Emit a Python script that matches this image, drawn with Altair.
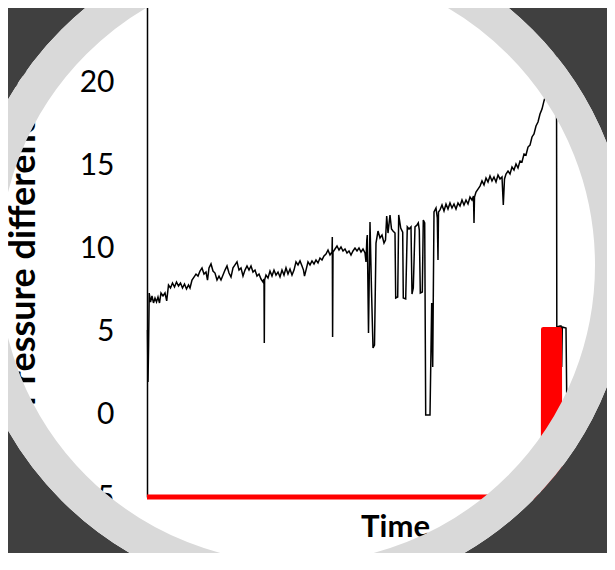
import altair as alt
import pandas as pd

# Black series: pressure difference
time_s = [0.5, 1.0, 1.6, 2.2, 3.5, 5, 6.5, 8, 9.5, 11, 12.5, 14, 16, 18, 19.7, 21.5, 23.5, 25.5, 27.5, 29.5,
          31.5, 33.5, 35.5, 37.5, 39.5, 41.5, 43, 45, 47, 49, 51, 53, 55, 57, 59, 60.5, 62, 64, 66, 68,
          70, 72, 74, 76, 78, 80, 82, 84, 86, 88, 90, 92, 94, 96, 98, 100, 102, 104, 106, 108,
          110, 112, 114, 116, 117, 117.3, 117.6, 119, 121, 123, 125, 127, 129, 131, 133, 135, 137, 139, 141, 143,
          145, 147, 149, 151, 153, 155, 156.5, 157.5, 159, 161, 163, 165, 167, 169, 171, 173, 175, 177, 179, 181,
          183, 185, 185.3, 185.6, 186, 188, 190, 192, 194, 196, 198, 200, 202, 204, 206, 208, 210, 212, 214, 216,
          218, 219, 219.8, 220.3, 221.5, 223, 224.5, 226, 227.5, 229, 231, 233, 235, 237, 238.5, 239.7, 241, 243, 244.5, 246,
          248, 248.7, 250.7, 251.7, 253.7, 255.7, 256.3, 258.7, 260.3, 262, 264, 265, 266.3, 268, 270, 271.3, 272.3, 273.3, 275.3, 276.3,
          277.7, 278.7, 283, 284.7, 285.7, 287, 289, 290.3, 291, 291.5, 293, 295, 297, 299, 301, 303, 305, 307, 309, 311,
          313, 315, 317, 319, 321, 323, 325, 326.5, 327, 327.5, 329, 331, 333, 335, 337, 339, 341, 343, 345, 347,
          349, 351, 353, 355, 356.3, 357.5, 359, 361, 363, 365, 367, 369, 371, 373, 375, 377, 379, 381, 383, 385,
          387, 389, 391, 393, 395, 397, 399, 402, 405, 408, 409.5, 409.8, 413, 414, 414.7, 415.3, 419, 419.7, 421]
pressure = [5.06, 1.93, 4.16, 7.29, 6.75, 7.11, 6.69, 6.99, 6.75, 7.05, 6.69, 7.29, 7.11, 7.29, 6.81, 7.77, 7.59, 7.89, 7.65, 7.95,
            7.71, 7.89, 7.59, 7.83, 7.53, 7.77, 7.59, 8.07, 8.25, 8.43, 8.31, 8.61, 8.80, 8.43, 8.55, 8.07, 8.80, 9.04, 8.61, 8.49,
            8.07, 8.31, 8.07, 8.37, 8.67, 8.92, 8.49, 8.25, 8.80, 8.98, 9.16, 8.67, 8.80, 8.31, 8.67, 8.92, 8.67, 8.92, 8.55, 8.67,
            8.31, 8.43, 8.13, 7.95, 8.13, 4.28, 8.07, 8.37, 8.19, 8.61, 8.31, 8.67, 8.37, 8.55, 8.25, 8.67, 8.37, 8.80, 8.43, 8.73,
            8.37, 8.67, 9.16, 8.98, 9.22, 8.92, 8.67, 8.31, 8.67, 9.16, 8.98, 9.22, 9.04, 9.28, 9.10, 9.40, 9.28, 9.52, 9.64, 9.88,
            9.58, 9.76, 10.66, 4.64, 9.76, 9.94, 10.12, 9.88, 10.06, 9.82, 9.94, 9.70, 9.82, 9.58, 9.82, 10.0, 9.82, 10.0, 9.76, 9.94,
            9.70, 9.16, 10.48, 10.78, 4.88, 11.57, 7.47, 3.98, 4.16, 10.30, 11.02, 10.60, 10.78, 10.30, 10.48, 11.93, 10.90, 11.99, 11.14, 11.02,
            10.90, 6.99, 7.05, 11.99, 11.20, 10.96, 6.99, 6.93, 11.27, 11.14, 11.27, 7.23, 7.59, 11.27, 11.39, 11.51, 11.08, 7.29, 7.35, 11.69,
            11.51, -0.06, -0.06, 6.69, 2.83, 12.17, 12.41, 11.81, 9.28, 12.17, 12.29, 12.59, 12.23, 12.65, 12.35, 12.71, 12.41, 12.65, 12.35, 12.71,
            12.53, 12.89, 12.59, 12.89, 12.65, 13.07, 12.89, 13.13, 11.51, 13.07, 13.37, 13.55, 13.73, 14.04, 13.80, 14.22, 13.98, 14.34, 14.04, 14.28,
            13.98, 14.40, 14.16, 14.28, 12.59, 14.16, 14.46, 14.64, 14.46, 14.88, 14.70, 15.06, 14.82, 15.24, 15.18, 15.66, 15.60, 16.08, 16.20, 16.69,
            16.87, 17.35, 17.59, 18.07, 18.37, 18.86, 19.28, 20.0, 20.84, 21.63, 22.05, 5.24, 5.30, 5.30, 2.83, 5.24, 5.18, 1.27, -0.36]

# Red series (second signal)
red_time = [0, 396.3, 396.5, 412.5, 412.7, 460]
red_value = [-5, -5, 5.09, 5.09, -5, -5]

y_ticks = [-5, 0, 5, 10, 15, 20]

black_df = pd.DataFrame({"time": time_s, "pressure": pressure})
red_df = pd.DataFrame({"time": red_time, "value": red_value, "base": [-5] * len(red_time)})

x_scale = alt.Scale(domain=[0, 460], nice=False, zero=False)
y_scale = alt.Scale(domain=[-5, 25], range=[489, -9], nice=False, zero=False)

x_axis = alt.Axis(title="Time", domain=False, ticks=False, labels=False, grid=False,
                  titleFont="Lato", titleFontSize=31, titleFontWeight="bold", titleColor="black",
                  titleX=248, titleY=39, titleAlign="center", titleBaseline="alphabetic")
y_axis = alt.Axis(title="Pressure difference (Pa)", values=y_ticks, grid=False, ticks=False,
                  domain=True, domainColor="black", domainWidth=1.5,
                  labelFont="Lato", labelFontSize=30, labelColor="black", labelPadding=33,
                  titleFont="Lato", titleFontSize=36, titleFontWeight="bold", titleColor="black",
                  titleAngle=270, titleAlign="left", titleBaseline="alphabetic",
                  titleX=-113, titleY=398)

line = alt.Chart(black_df).mark_line(color="black", strokeWidth=1.5).encode(
    x=alt.X("time:Q", scale=x_scale, axis=x_axis),
    y=alt.Y("pressure:Q", scale=y_scale, axis=y_axis),
)

red = alt.Chart(red_df).mark_area(
    color="red", opacity=1,
    line={"color": "red", "strokeWidth": 5, "strokeJoin": "round"},
).encode(
    x=alt.X("time:Q", scale=x_scale),
    y=alt.Y("value:Q", scale=y_scale),
    y2="base:Q",
)

one = pd.DataFrame({"k": [0]})
outside = alt.Chart(one).mark_point(
    shape="circle", filled=False, opacity=1, color="#404040", strokeWidth=600, size=1602756
).encode(x=alt.value(150), y=alt.value(257))
ring = alt.Chart(one).mark_point(
    shape="circle", filled=False, opacity=1, color="#d9d9d9", strokeWidth=35, size=398161
).encode(x=alt.value(150), y=alt.value(257))

chart = alt.layer(line, red, outside, ring).properties(
    width=460, height=489,
    autosize=alt.AutoSizeParams(type="none"),
    padding={"left": 139, "top": 0, "right": 0, "bottom": 56},
    background="white",
).configure_view(strokeWidth=0)

chart.save("out.html", embed_options={"renderer": "svg", "actions": False})
